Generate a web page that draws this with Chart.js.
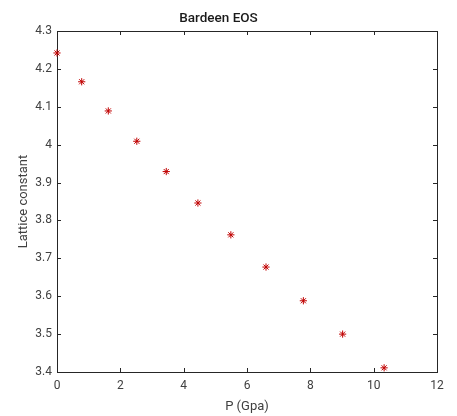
<!DOCTYPE html>
<html>
<head>
<meta charset="utf-8">
<script src="https://cdn.jsdelivr.net/npm/chart.js@4.4.0/dist/chart.umd.min.js"></script>
<style>
  html, body { margin: 0; padding: 0; background: #fff; }
  #wrap { width: 457px; height: 416px; }
</style>
</head>
<body>
<div id="wrap"><canvas id="canvas"></canvas></div>
<script>
// pressure (Gpa) and lattice constant
const pressure = [0, 0.78, 1.62, 2.52, 3.45, 4.45, 5.49, 6.6, 7.78, 9.02, 10.33];
const lattice = [4.242, 4.166, 4.089, 4.009, 3.929, 3.846, 3.762, 3.677, 3.588, 3.5, 3.411];
const xRange = [0, 12];
const yRange = [3.4, 4.3];

const axisColor = '#262626';
const labelColor = '#404040';

// MATLAB style box with inward ticks on all four sides
const boxPlugin = {
    id: 'box',
    beforeDatasetsDraw(chart) {
        const { ctx, chartArea: a, scales } = chart;
        const len = 4;
        ctx.save();
        ctx.strokeStyle = axisColor;
        ctx.lineWidth = 1;
        ctx.beginPath();
        scales.x.ticks.forEach(t => {
            const px = Math.round(scales.x.getPixelForValue(t.value)) + 0.5;
            ctx.moveTo(px, a.bottom);
            ctx.lineTo(px, a.bottom - len);
            ctx.moveTo(px, a.top);
            ctx.lineTo(px, a.top + len);
        });
        scales.y.ticks.forEach(t => {
            const py = Math.round(scales.y.getPixelForValue(t.value)) + 0.5;
            ctx.moveTo(a.left, py);
            ctx.lineTo(a.left + len, py);
            ctx.moveTo(a.right, py);
            ctx.lineTo(a.right - len, py);
        });
        ctx.stroke();
        ctx.strokeRect(Math.round(a.left) + 0.5, Math.round(a.top) + 0.5,
            Math.round(a.right - a.left), Math.round(a.bottom - a.top));
        ctx.restore();
    }
};

const data = pressure.map((p, i) => ({ x: p, y: lattice[i] }));

new Chart('canvas', {
    type: 'scatter',
    data: {
        datasets: [
            {
                label: 'Bardeen EOS',
                data: data,
                clip: false,
                pointStyle: 'star',
                radius: 3.6,
                borderWidth: 1,
                borderColor: '#c00000',
                backgroundColor: '#c00000'
            }
        ]
    },
    options: {
        responsive: true,
        maintainAspectRatio: false,
        animation: false,
        layout: { padding: { left: 0, right: 20, top: 0, bottom: 0 } },
        plugins: {
            legend: { display: false },
            tooltip: { enabled: false },
            title: {
                display: true,
                text: 'Bardeen EOS',
                color: '#1a1a1a',
                font: { family: 'Roboto', size: 13.5, weight: '500', lineHeight: 1.2 },
                padding: { top: 11, bottom: 3.8 }
            }
        },
        scales: {
            x: {
                type: 'linear',
                min: xRange[0],
                max: xRange[1],
                afterFit(scale) { scale.height = 44; },
                grid: { display: false, drawTicks: false },
                border: { display: false },
                ticks: {
                    stepSize: 2,
                    padding: 7,
                    color: labelColor,
                    font: { family: 'Roboto', size: 12 }
                },
                title: {
                    display: true,
                    text: 'P (Gpa)',
                    color: labelColor,
                    font: { family: 'Roboto', size: 13, lineHeight: 1.2 },
                    padding: { top: 0, bottom: 1.5 }
                }
            },
            y: {
                type: 'linear',
                min: yRange[0],
                max: yRange[1],
                afterFit(scale) { scale.width = 57; },
                grid: { display: false, drawTicks: false },
                border: { display: false },
                ticks: {
                    stepSize: 0.1,
                    padding: 5,
                    color: labelColor,
                    font: { family: 'Roboto', size: 12 },
                    callback: v => String(Math.round(v * 10) / 10)
                },
                title: {
                    display: true,
                    text: 'Lattice constant',
                    color: labelColor,
                    font: { family: 'Roboto', size: 13, lineHeight: 1.2 },
                    padding: { top: 16, bottom: 0 }
                }
            }
        }
    },
    plugins: [boxPlugin]
});
</script>
</body>
</html>
